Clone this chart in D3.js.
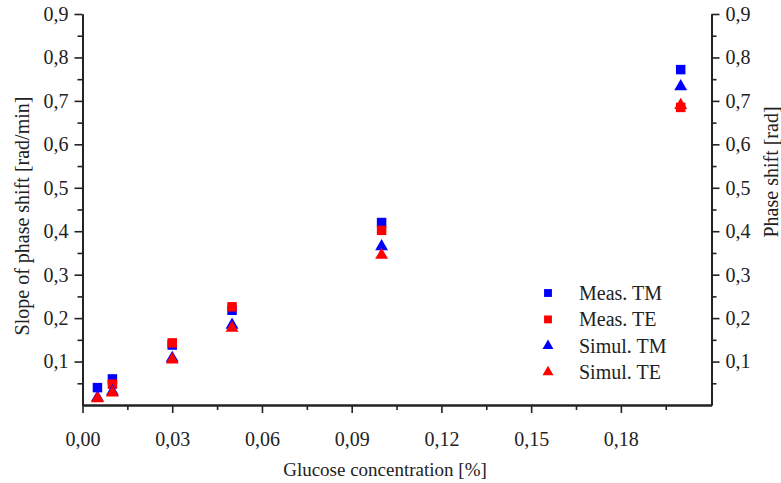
<!DOCTYPE html>
<html>
<head>
<meta charset="utf-8">
<script src="https://cdn.jsdelivr.net/npm/d3@7"></script>
<style>
  body { margin: 0; background: #fff; }
  svg text { font-family: "Liberation Serif", "DejaVu Serif", serif; fill: #222; }
</style>
</head>
<body>
<svg id="chart" width="781" height="483"></svg>
<script>
// glucose concentration [%]
let concentrations = [0.005, 0.01, 0.03, 0.05, 0.1, 0.2];
// series values (null = no visible point)
let measTM  = [0.040, 0.060, 0.138, 0.218, 0.420, 0.772];
let measTE  = [null,  0.048, 0.143, 0.226, 0.402, 0.685];
let simulTM = [0.017, 0.031, 0.108, 0.184, 0.365, 0.733];
let simulTE = [0.015, 0.028, 0.104, 0.177, 0.345, 0.690];
let xTicks = [0, 0.03, 0.06, 0.09, 0.12, 0.15, 0.18];
let yTicks = [0.1, 0.2, 0.3, 0.4, 0.5, 0.6, 0.7, 0.8, 0.9];
let seriesNames = ["Meas. TM", "Meas. TE", "Simul. TM", "Simul. TE"];

let series = [
    {name: seriesNames[0], values: measTM,  color: "#0000ff", shape: "square"},
    {name: seriesNames[1], values: measTE,  color: "#ff0000", shape: "square"},
    {name: seriesNames[2], values: simulTM, color: "#0000ff", shape: "triangle"},
    {name: seriesNames[3], values: simulTE, color: "#ff0000", shape: "triangle"}
];

let locale = d3.formatLocale({decimal: ",", thousands: ".", grouping: [3], currency: ["", ""]});
let fontStack = "'Liberation Serif', 'DejaVu Serif', serif";

let svg = d3.select("#chart");
let plotLeft = 82.5, plotRight = 711.5, plotTop = 14, plotBottom = 405;

let xScale = d3.scaleLinear().domain([0, 0.2103]).range([plotLeft, plotRight]);
let yScale = d3.scaleLinear().domain([0, 0.9]).range([plotBottom, plotTop]);

function symbolFor(shape, size) {
    return d3.symbol().type(shape === "square" ? d3.symbolSquare : d3.symbolTriangle).size(size)();
}

// x axis
let xAxis = svg.append("g").attr("transform", "translate(0," + plotBottom + ")");
xAxis.call(d3.axisBottom(xScale).tickValues(d3.range(0.015, 0.2101, 0.03)).tickSize(5).tickSizeOuter(0).tickFormat(""));
xAxis.append("g").call(d3.axisBottom(xScale).tickValues(xTicks).tickSize(8).tickSizeOuter(0).tickPadding(19)
    .tickFormat(locale.format(".2f")));

// left y axis
let yLeft = svg.append("g").attr("transform", "translate(" + plotLeft + ",0)");
yLeft.call(d3.axisLeft(yScale).tickValues(d3.range(0.05, 0.91, 0.1)).tickSize(5).tickSizeOuter(0).tickFormat(""));
yLeft.append("g").call(d3.axisLeft(yScale).tickValues(yTicks).tickSize(8).tickSizeOuter(0).tickPadding(6)
    .tickFormat(locale.format(".1f")));

// right y axis
let yRight = svg.append("g").attr("transform", "translate(" + plotRight + ",0)");
yRight.call(d3.axisRight(yScale).tickValues(d3.range(0.05, 0.91, 0.1)).tickSize(5).tickSizeOuter(0).tickFormat(""));
yRight.append("g").call(d3.axisRight(yScale).tickValues(yTicks).tickSize(8).tickSizeOuter(0).tickPadding(6)
    .tickFormat(locale.format(".1f")));

svg.selectAll("g").attr("font-family", fontStack);
svg.selectAll(".domain").attr("stroke", "#222").attr("stroke-width", 1.8);
svg.selectAll(".tick line").attr("stroke", "#222").attr("stroke-width", 1.6);
svg.selectAll(".tick text").style("font-size", "20px").style("font-family", fontStack).attr("fill", "#222");

// axis titles
svg.append("text")
    .attr("x", 385)
    .attr("y", 476)
    .attr("text-anchor", "middle")
    .style("font-size", "19px")
    .style("font-family", fontStack)
    .text("Glucose concentration [%]");

svg.append("text")
    .attr("transform", "translate(29,216) rotate(-90)")
    .attr("text-anchor", "middle")
    .style("font-size", "20px")
    .style("font-family", fontStack)
    .text("Slope of phase shift [rad/min]");

svg.append("text")
    .attr("transform", "translate(778,172) rotate(-90)")
    .attr("text-anchor", "middle")
    .style("font-size", "20px")
    .style("font-family", fontStack)
    .text("Phase shift [rad]");

// points
series.forEach(function(s) {
    let pts = s.values.map(function(v, i) { return {x: concentrations[i], y: v}; })
        .filter(function(p) { return p.y !== null; });
    svg.append("g").selectAll("path")
        .data(pts)
        .enter().append("path")
        .attr("d", symbolFor(s.shape, s.shape === "square" ? 90 : 72))
        .attr("transform", function(d) {
            return "translate(" + xScale(d.x) + "," + yScale(d.y) + ")";
        })
        .attr("fill", s.color);
});

// legend
let legend = svg.append("g").attr("transform", "translate(548,293)");
let rows = legend.selectAll("g").data(series).enter().append("g")
    .attr("transform", function(d, i) { return "translate(0," + (i * 26.4) + ")"; });
rows.append("path")
    .attr("d", function(d) { return symbolFor(d.shape, d.shape === "square" ? 62 : 52); })
    .attr("fill", function(d) { return d.color; });
rows.append("text")
    .attr("x", 31)
    .attr("y", 7)
    .style("font-size", "20px")
    .style("font-family", fontStack)
    .text(function(d) { return d.name; });
</script>
</body>
</html>
